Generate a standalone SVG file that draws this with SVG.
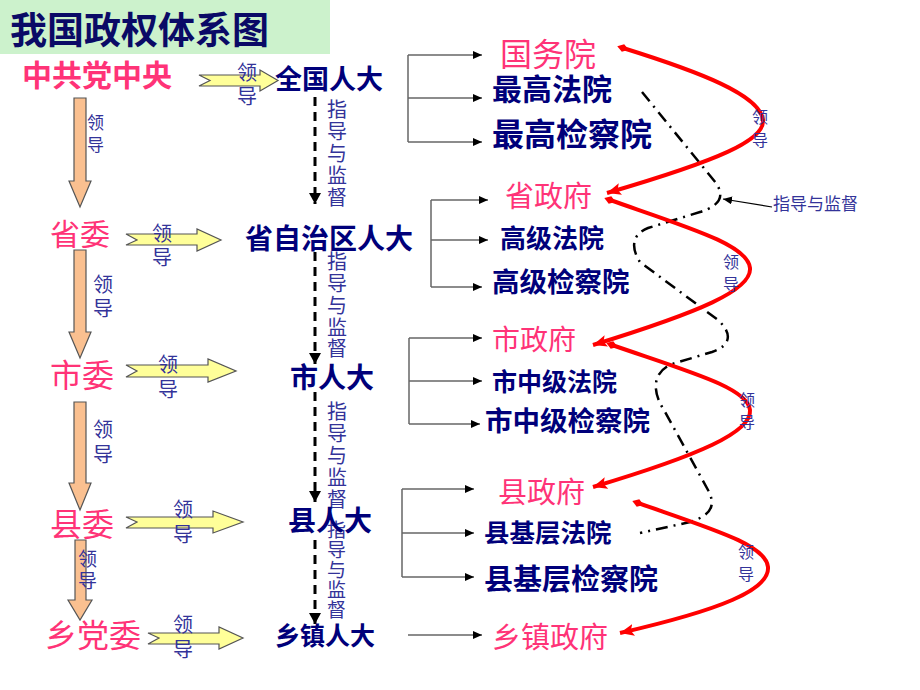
<svg xmlns="http://www.w3.org/2000/svg" width="920" height="690" viewBox="0 0 920 690">
<defs>
<style>
text{font-family:"Noto Sans CJK SC","Noto Sans CJK TC",sans-serif}
.pk{fill:#ff3377}
.nv{fill:#00007a;font-weight:bold}
.lb{fill:#333399;font-size:20px}
.sl{fill:#333399;font-size:16px}
.ya{fill:#ffff99;stroke:#555;stroke-width:1.2}
.oa{fill:#fac090;stroke:#555;stroke-width:1.2}
.dash{stroke:#000;stroke-width:3;stroke-dasharray:9 6;fill:none}
.br{stroke:#666;stroke-width:1.5;fill:none}
.red{stroke:#ff0000;stroke-width:4;fill:none;marker-start:url(#rs);marker-end:url(#re)}
.dd{stroke:#000;stroke-width:2.5;fill:none;stroke-dasharray:12 6 2 6}
</style>
<marker id="ah" markerUnits="userSpaceOnUse" markerWidth="10" markerHeight="8" refX="9" refY="4" orient="auto"><path d="M0,0L9,4L0,8z" fill="#000"/></marker>
<marker id="ad" markerUnits="userSpaceOnUse" markerWidth="12" markerHeight="12" refX="11" refY="6" orient="auto"><path d="M0,0L11,6L0,12z" fill="#000"/></marker>
<marker id="re" markerUnits="userSpaceOnUse" markerWidth="16" markerHeight="14" refX="14" refY="7" orient="auto"><path d="M0,1L14,7L0,13L3,7z" fill="#ff0000"/></marker>
<marker id="rs" markerUnits="userSpaceOnUse" markerWidth="12" markerHeight="12" refX="6" refY="6" orient="auto"><path d="M0,6L6,2L12,6L6,10z" fill="#ff0000"/></marker>
</defs>
<rect width="920" height="690" fill="#fff"/>
<g id="title">
<rect x="0" y="0" width="330" height="54" fill="#ccf2cc"/>
<text x="10" y="44" font-size="37" font-weight="bold" fill="#0a0a66">我国政权体系图</text>
</g>

<g id="connectors">
<!-- orange down arrows -->
<polygon class="oa" points="74,98 86,98 86,181 91,181 80,207 69,181 74,181"/>
<polygon class="oa" points="74,250 86,250 86,332 91,332 80,358 69,332 74,332"/>
<polygon class="oa" points="74,402 86,402 86,483 91,483 80,510 69,483 74,483"/>
<polygon class="oa" points="75,540 86,540 86,600 92,600 80,620 68,600 75,600"/>
<!-- yellow right arrows -->
<polygon class="ya" points="199,75 260,75 260,70 278,80.5 260,91 260,86 199,86 210,80.5"/>
<polygon class="ya" points="126,234 197,234 197,229 221,240 197,251 197,245 126,245 137,240"/>
<polygon class="ya" points="126,365 208,365 208,359 236,371 208,382 208,377 126,377 137,371"/>
<polygon class="ya" points="126,517 213,517 213,511 243,522 213,533 213,528 126,528 137,522"/>
<polygon class="ya" points="148,633 219,633 219,627 243,638 219,649 219,644 148,644 159,638"/>
<!-- dashed supervision lines -->
<path class="dash" d="M315,97V204" marker-end="url(#ad)"/>
<path class="dash" d="M315,252V364" marker-end="url(#ad)"/>
<path class="dash" d="M315,392V502" marker-end="url(#ad)"/>
<path class="dash" d="M315,540V624" marker-end="url(#ad)"/>
<!-- brackets -->
<path class="br" d="M408,55V142"/>
<path class="br" d="M408,55H482" marker-end="url(#ah)"/>
<path class="br" d="M408,98H482" marker-end="url(#ah)"/>
<path class="br" d="M408,142H482" marker-end="url(#ah)"/>
<path class="br" d="M431,200V287"/>
<path class="br" d="M431,200H488" marker-end="url(#ah)"/>
<path class="br" d="M431,240H488" marker-end="url(#ah)"/>
<path class="br" d="M431,287H482" marker-end="url(#ah)"/>
<path class="br" d="M409,338V424"/>
<path class="br" d="M409,338H482" marker-end="url(#ah)"/>
<path class="br" d="M409,381H482" marker-end="url(#ah)"/>
<path class="br" d="M409,424H480" marker-end="url(#ah)"/>
<path class="br" d="M402,489V577"/>
<path class="br" d="M402,489H474" marker-end="url(#ah)"/>
<path class="br" d="M402,533H474" marker-end="url(#ah)"/>
<path class="br" d="M402,577H474" marker-end="url(#ah)"/>
<path class="br" d="M408,635H482" marker-end="url(#ah)"/>
<!-- dash-dot supervision curve -->
<path class="dd" d="M642,92L716,183C724,195 722,205 700,212L648,228C630,235 632,250 640,262L718,320C732,333 732,345 712,352L672,364C652,372 652,392 664,410L708,490C716,505 712,515 690,522L640,533"/>
<path d="M772,207L723,199" stroke="#000" stroke-width="1.2" fill="none" marker-end="url(#ah)"/>
<!-- red leadership curves -->
<path class="red" d="M623,48C700,72 760,95 763,120C765,140 720,160 607,193"/>
<path class="red" d="M610,200C690,228 748,245 750,268C752,290 700,312 593,345"/>
<path class="red" d="M612,345C690,372 748,388 750,410C752,432 700,455 593,487"/>
<path class="red" d="M638,503C715,530 766,545 768,567C770,590 720,610 620,633"/>
</g>

<g id="labels">
<text class="lb"><tspan x="237" y="80">领</tspan><tspan x="237" y="104">导</tspan></text>
<text class="lb"><tspan x="152" y="241">领</tspan><tspan x="152" y="265">导</tspan></text>
<text class="lb"><tspan x="158" y="372">领</tspan><tspan x="158" y="397">导</tspan></text>
<text class="lb"><tspan x="173" y="517">领</tspan><tspan x="173" y="542">导</tspan></text>
<text class="lb"><tspan x="173" y="632">领</tspan><tspan x="173" y="657">导</tspan></text>
<text class="lb" style="font-size:17px"><tspan x="87" y="129">领</tspan><tspan x="87" y="151">导</tspan></text>
<text class="lb"><tspan x="93" y="292">领</tspan><tspan x="93" y="316">导</tspan></text>
<text class="lb"><tspan x="93" y="437">领</tspan><tspan x="93" y="462">导</tspan></text>
<text class="lb" style="font-size:19px"><tspan x="78" y="566">领</tspan><tspan x="78" y="588">导</tspan></text>
<text class="lb"><tspan x="327" y="117">指</tspan><tspan x="327" y="139">导</tspan><tspan x="327" y="161">与</tspan><tspan x="327" y="183">监</tspan><tspan x="327" y="205">督</tspan></text>
<text class="lb"><tspan x="327" y="269">指</tspan><tspan x="327" y="291">导</tspan><tspan x="327" y="313">与</tspan><tspan x="327" y="335">监</tspan><tspan x="327" y="356">督</tspan></text>
<text class="lb"><tspan x="327" y="419">指</tspan><tspan x="327" y="441">导</tspan><tspan x="327" y="463">与</tspan><tspan x="327" y="485">监</tspan><tspan x="327" y="507">督</tspan></text>
<text class="lb" style="font-size:19px"><tspan x="327" y="537">指</tspan><tspan x="327" y="557">导</tspan><tspan x="327" y="577">与</tspan><tspan x="327" y="597">监</tspan><tspan x="327" y="617">督</tspan></text>
<text class="sl"><tspan x="752" y="123">领</tspan><tspan x="752" y="146">导</tspan></text>
<text class="sl"><tspan x="723" y="268">领</tspan><tspan x="723" y="290">导</tspan></text>
<text class="sl"><tspan x="739" y="406">领</tspan><tspan x="739" y="428">导</tspan></text>
<text class="sl"><tspan x="738" y="558">领</tspan><tspan x="738" y="580">导</tspan></text>
<text class="sl" x="773" y="210" style="font-size:17px">指导与监督</text>
</g>

<g id="n-zhongyang"><text class="pk" x="22" y="86" font-size="30" font-weight="bold">中共党中央</text></g>
<g id="n-shengwei"><text class="pk" x="50" y="245" font-size="30">省委</text></g>
<g id="n-shiwei"><text class="pk" x="50" y="387" font-size="32">市委</text></g>
<g id="n-xianwei"><text class="pk" x="50" y="536" font-size="32">县委</text></g>
<g id="n-xiangdangwei"><text class="pk" x="45" y="647" font-size="32">乡党委</text></g>

<g id="n-quanguorenda"><text class="nv" x="275" y="89" font-size="27">全国人大</text></g>
<g id="n-shengrenda"><text class="nv" x="245" y="249" font-size="28">省自治区人大</text></g>
<g id="n-shirenda"><text class="nv" x="290" y="388" font-size="28">市人大</text></g>
<g id="n-xianrenda"><text class="nv" x="288" y="531" font-size="28">县人大</text></g>
<g id="n-xiangrenda"><text class="nv" x="275" y="645" font-size="25">乡镇人大</text></g>

<g id="n-guowuyuan"><text class="pk" x="500" y="66" font-size="32">国务院</text></g>
<g id="n-zuigaofayuan"><text class="nv" x="492" y="100" font-size="30">最高法院</text></g>
<g id="n-zuigaojianchayuan"><text class="nv" x="492" y="146" font-size="32">最高检察院</text></g>
<g id="n-shengzhengfu"><text class="pk" x="505" y="207" font-size="29">省政府</text></g>
<g id="n-gaojifayuan"><text class="nv" x="500" y="248" font-size="26">高级法院</text></g>
<g id="n-gaojijianchayuan"><text class="nv" x="492" y="292" font-size="27.5">高级检察院</text></g>
<g id="n-shizhengfu"><text class="pk" x="492" y="350" font-size="28">市政府</text></g>
<g id="n-shifayuan"><text class="nv" x="492" y="391" font-size="25">市中级法院</text></g>
<g id="n-shijianchayuan"><text class="nv" x="485" y="431" font-size="27.5">市中级检察院</text></g>
<g id="n-xianzhengfu"><text class="pk" x="498" y="503" font-size="29">县政府</text></g>
<g id="n-xianfayuan"><text class="nv" x="484" y="542" font-size="25.5">县基层法院</text></g>
<g id="n-xianjianchayuan"><text class="nv" x="484" y="590" font-size="29">县基层检察院</text></g>
<g id="n-xiangzhengfu"><text class="pk" x="492" y="648" font-size="29">乡镇政府</text></g>
</svg>
